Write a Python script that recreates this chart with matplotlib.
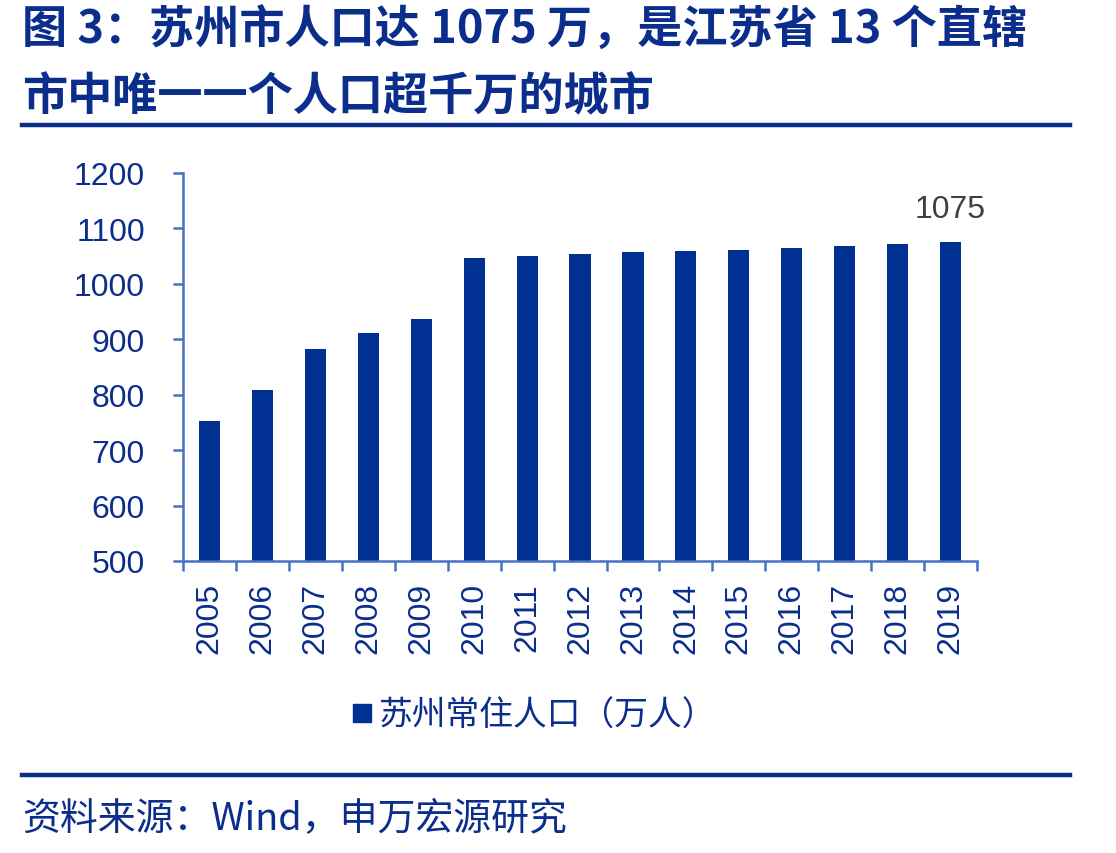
import matplotlib
matplotlib.use("Agg")
import matplotlib.pyplot as plt
from matplotlib.lines import Line2D
from matplotlib.ticker import FixedLocator, NullFormatter

years = ["2005", "2006", "2007", "2008", "2009", "2010", "2011", "2012",
         "2013", "2014", "2015", "2016", "2017", "2018", "2019"]
population = [752, 809, 882, 912, 936, 1046, 1051, 1054, 1057, 1059,
              1061, 1064, 1068, 1071, 1075]
y_ticks = [500, 600, 700, 800, 900, 1000, 1100, 1200]

title_line1 = "图 3：苏州市人口达 1075 万，是江苏省 13 个直辖"
title_line2 = "市中唯一一个人口超千万的城市"
legend_label = "苏州常住人口（万人）"
source_text = "资料来源：Wind，申万宏源研究"

BAR = "#003192"
AXIS = "#4472C4"
TXT = "#0B2D8C"
CJK = ["Noto Sans CJK SC", "Liberation Sans", "DejaVu Sans"]
NUM = ["Liberation Sans", "Noto Sans CJK SC"]

fig = plt.figure(figsize=(11.16, 8.54), dpi=100)
ax = fig.add_axes([0.164, 0.342, 0.7115, 0.4543])

x = list(range(len(years)))
ax.bar(x, population, width=0.4, color=BAR, zorder=2)
ax.set_xlim(-0.5, len(years) - 0.5)
ax.set_ylim(500, 1200)

ax.set_yticks(y_ticks)
ax.set_yticklabels([str(v) for v in y_ticks], family=NUM, fontsize=23, color=TXT)
ax.tick_params(axis="y", length=7.5, width=1.8, color=AXIS, pad=20)

ax.set_xticks(x)
ax.set_xticklabels(years, rotation=90, family=NUM, fontsize=23, color=TXT)
ax.tick_params(axis="x", which="major", length=0, pad=15)
ax.xaxis.set_minor_locator(FixedLocator([i - 0.5 for i in range(len(years) + 1)]))
ax.xaxis.set_minor_formatter(NullFormatter())
ax.tick_params(axis="x", which="minor", length=7.5, width=1.8, color=AXIS)

for s in ["top", "right"]:
    ax.spines[s].set_visible(False)
for s in ["left", "bottom"]:
    ax.spines[s].set_color(AXIS)
    ax.spines[s].set_linewidth(1.8)

ax.annotate(str(population[-1]), (x[-1], population[-1]), xytext=(0, 13),
            textcoords="offset points", ha="center", va="bottom",
            family=NUM, fontsize=23, color="#404040")

# title
fig.text(0.02, 0.964, title_line1, ha="left", va="center", family=CJK,
         fontsize=32.5, fontweight="bold", color=TXT)
fig.text(0.02, 0.886, title_line2, ha="left", va="center", family=CJK,
         fontsize=32.5, fontweight="bold", color=TXT)
fig.add_artist(Line2D([0.02, 0.959], [0.853, 0.853], color=TXT, lw=3.2))

# legend
handle = Line2D([], [], marker="s", linestyle="none", markersize=13,
                markerfacecolor=BAR, markeredgecolor=BAR)
fig.legend([handle], [legend_label], loc="center", bbox_to_anchor=(0.477, 0.161),
           frameon=False, prop={"family": CJK, "size": 24.3}, labelcolor=TXT,
           handletextpad=0.1, handlelength=0.8)

fig.add_artist(Line2D([0.02, 0.959], [0.091, 0.091], color=TXT, lw=3.2))
fig.text(0.02, 0.04, source_text, ha="left", va="center", family=CJK,
         fontsize=27.3, color=TXT)

fig.savefig("out.png", dpi=100)
